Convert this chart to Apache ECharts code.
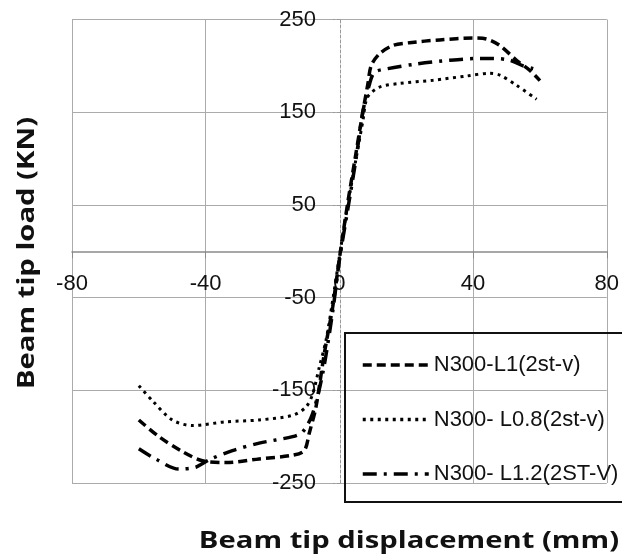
<!DOCTYPE html>
<html><head><meta charset="utf-8">
<script src="https://cdn.jsdelivr.net/npm/echarts@6/dist/echarts.min.js"></script>
<style>html,body{margin:0;padding:0;background:#fff}#c{width:622px;height:558px}</style>
</head><body><div id="c"></div>
<script>
const xTicks = [-80, -40, 0, 40, 80];
const yTicks = [-250, -150, -50, 50, 150, 250];
const seriesNames = ['N300-L1(2st-v)', 'N300- L0.8(2st-v)', 'N300- L1.2(2ST-V)'];

const l1X = [-60, -54, -47, -41, -34, -24, -14, -10.5, -9, -7, -4.5, -2, 0, 2.4, 4.7, 7, 8.5, 9.5, 12, 16, 21, 30, 40, 44, 48, 53, 57, 60];
const l1Y = [-182, -200, -216, -226, -228, -224, -220, -215, -196, -168, -110, -60, -8, 50, 100, 150, 180, 200, 213, 222, 225, 228, 230, 229, 222, 206, 195, 184];

const l08X = [-60, -56, -50, -44, -34, -24, -14, -10, -8, -6, -4, -2, 0, 2.5, 5, 7, 8.4, 12, 18, 28, 38, 45, 48, 53, 59];
const l08Y = [-145, -161, -182, -188, -184, -182, -177, -168, -154, -125, -96, -53, -6, 50, 100, 140, 166, 177, 181, 184.5, 189, 192, 190, 179, 164];

const l12X = [-60, -55, -48, -43, -39, -32, -24, -14, -11, -8, -5, -2, 0, 2.5, 5, 7, 9, 10.5, 14.5, 23, 33, 42, 46, 51, 55, 58];
const l12Y = [-213, -224, -235, -233, -225, -215, -207, -200, -195, -175, -132, -65, -10, 45, 100, 150, 180, 193, 197, 202, 206, 208, 208, 206, 200, 197];

function pairs(xs, ys) { return xs.map((x, i) => [x, ys[i]]); }

const W = 622, H = 558;
const gridL = 72, gridR = 14, gridT = 19.5, gridB = 75;
const plotW = W - gridL - gridR, plotH = H - gridT - gridB;
// offsets so the axes (line + labels) sit at the zero crossings
const xAxisOffset = -plotH * (0 - yTicks[0]) / (yTicks[yTicks.length - 1] - yTicks[0]);
const yAxisOffset = -plotW * (0 - xTicks[0]) / (xTicks[xTicks.length - 1] - xTicks[0]);

const chart = echarts.init(document.getElementById('c'), null, {renderer: 'canvas'});
const font = 'Liberation Sans';
chart.setOption({
  animation: false,
  backgroundColor: '#fff',
  grid: {left: gridL, right: gridR, top: gridT, bottom: gridB, containLabel: false},
  xAxis: {
    type: 'value', min: xTicks[0], max: xTicks[xTicks.length - 1], interval: 40,
    position: 'bottom', offset: xAxisOffset,
    axisLine: {onZero: false, lineStyle: {color: '#8a8a8a', width: 1.5}},
    axisTick: {show: true, length: 7, inside: false, lineStyle: {color: '#8a8a8a'}},
    axisLabel: {margin: 22, color: '#111', fontSize: 22, fontFamily: font},
    splitLine: {show: true, lineStyle: {color: ['#ababab', '#ababab', 'transparent', '#ababab', '#ababab'], width: 1}}
  },
  yAxis: {
    type: 'value', min: yTicks[0], max: yTicks[yTicks.length - 1], interval: 100,
    position: 'left', offset: yAxisOffset,
    axisLine: {onZero: false, lineStyle: {color: '#999', width: 1, type: [3, 2]}},
    axisTick: {show: true, length: 7, lineStyle: {color: '#999', type: [3, 2]}},
    axisLabel: {margin: 24, color: '#111', fontSize: 22, fontFamily: font},
    splitLine: {show: true, lineStyle: {color: '#ababab', width: 1}}
  },
  legend: {
    orient: 'vertical', left: 356, top: 349, itemWidth: 66, itemHeight: 22, itemGap: 32.5,
    itemStyle: {opacity: 0},
    lineStyle: {width: 3.5},
    textStyle: {fontSize: 22, fontFamily: font, color: '#111', lineHeight: 22},
    data: seriesNames
  },
  graphic: [
    {type: 'rect', shape: {x: 345, y: 333, width: 300, height: 169}, style: {fill: 'none', stroke: '#111', lineWidth: 2}, z: 100},
    {type: 'text', x: 409, y: 541, scaleX: 1.27, style: {text: 'Beam tip displacement (mm)', font: 'bold 23px "Open Sans"', fill: '#111', textAlign: 'center', textVerticalAlign: 'middle'}},
    {type: 'text', x: 27, y: 253, rotation: Math.PI / 2, scaleX: 1.27, style: {text: 'Beam tip load (KN)', font: 'bold 23px "Open Sans"', fill: '#111', textAlign: 'center', textVerticalAlign: 'middle'}}
  ],
  series: [
    {name: seriesNames[0], type: 'line', data: pairs(l1X, l1Y), symbol: 'none', smooth: 0.3,
     lineStyle: {color: '#000', width: 3.5, type: [9, 5]}, itemStyle: {color: '#000'}},
    {name: seriesNames[1], type: 'line', data: pairs(l08X, l08Y), symbol: 'none', smooth: 0.3,
     lineStyle: {color: '#000', width: 3, type: [3, 4.5]}, itemStyle: {color: '#000'}},
    {name: seriesNames[2], type: 'line', data: pairs(l12X, l12Y), symbol: 'none', smooth: 0.3,
     lineStyle: {color: '#000', width: 3.5, type: [14, 7, 3, 7]}, itemStyle: {color: '#000'}}
  ]
});
</script></body></html>
